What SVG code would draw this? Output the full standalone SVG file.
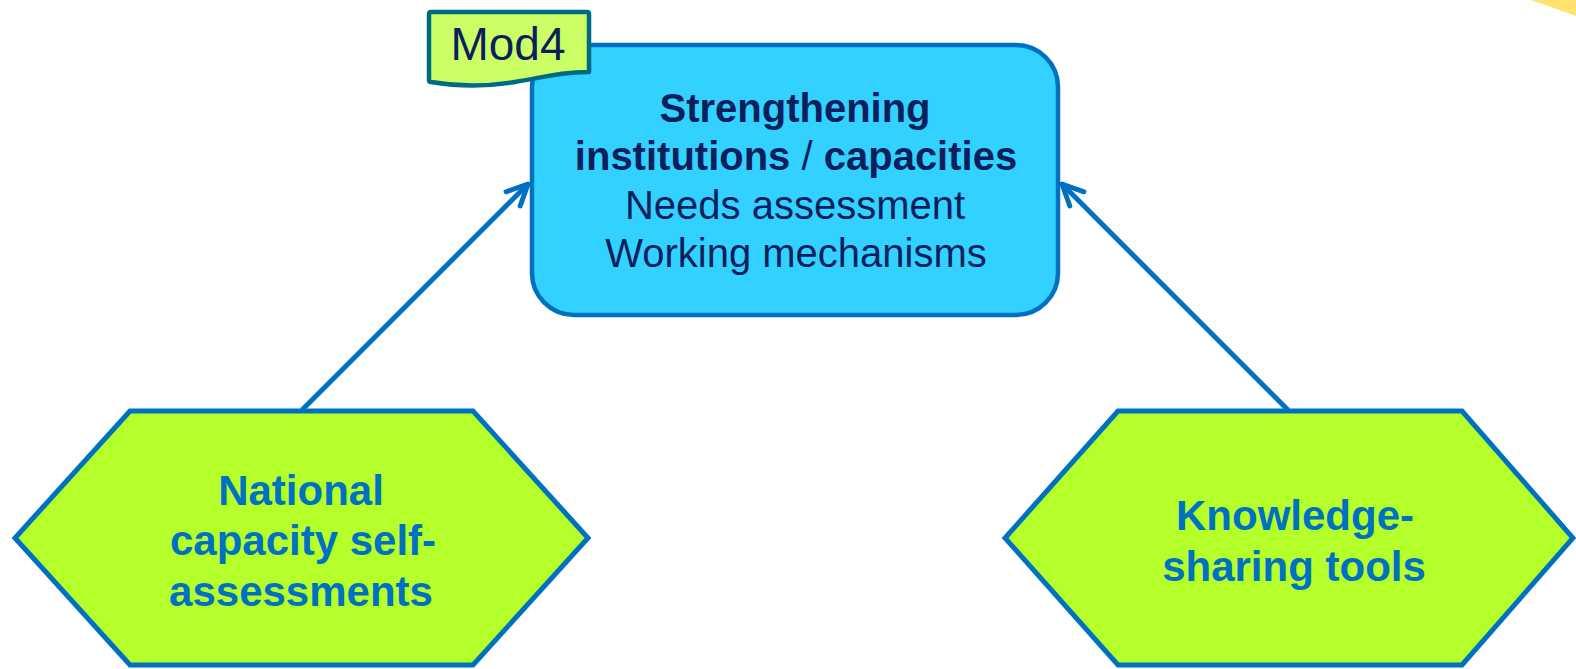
<svg xmlns="http://www.w3.org/2000/svg" width="1576" height="669" viewBox="0 0 1576 669">
<defs>
<style>
.hex{fill:#b5ff2a;stroke:#0070c0;stroke-width:5;stroke-linejoin:miter}
.hext{font-family:"Liberation Sans",Arial,sans-serif;font-weight:bold;font-size:42px;fill:#0070c0;text-anchor:middle}
.bt{font-family:"Liberation Sans",Arial,sans-serif;font-size:40px;fill:#0a1f5c;text-anchor:middle}
.conn{stroke:#0070c0;stroke-width:5;fill:none}
</style>
<marker id="arr" markerUnits="userSpaceOnUse" viewBox="-24 -14 28 28" markerWidth="28" markerHeight="28" refX="0" refY="0" orient="auto">
<path d="M-21,-10 L0,0 L-21,10" fill="none" stroke="#0070c0" stroke-width="5" stroke-linecap="round" stroke-linejoin="round"/>
</marker>
</defs>
<rect width="1576" height="669" fill="#ffffff"/>
<polygon points="1531,0 1576,0 1576,16" fill="#ffe36e"/>
<g id="connectors">
<line class="conn" x1="302" y1="410" x2="528" y2="184" marker-end="url(#arr)"/>
<line class="conn" x1="1288" y1="410" x2="1062" y2="184" marker-end="url(#arr)"/>
</g>
<g id="node-main">
<rect x="532" y="45" width="526" height="270" rx="42" ry="42" fill="#33d1ff" stroke="#0070c0" stroke-width="4.5"/>
<text class="bt" x="795" y="122" font-weight="bold">Strengthening</text>
<text class="bt" x="796" y="170"><tspan font-weight="bold">institutions</tspan> / <tspan font-weight="bold">capacities</tspan></text>
<text class="bt" x="795" y="219">Needs assessment</text>
<text class="bt" x="796" y="267">Working mechanisms</text>
</g>
<g id="node-mod4">
<path d="M431,12 H587 Q589,12 589,14 V72 C562,72 545,77 515,82 C485,87 460,87 431,82 Q429,82 429,80 V14 Q429,12 431,12 Z" fill="#ccff66" stroke="#006b80" stroke-width="4.5" stroke-linejoin="round"/>
<text x="508" y="60" font-family="'Liberation Sans',Arial,sans-serif" font-size="46" fill="#0a1f5c" text-anchor="middle">Mod4</text>
</g>
<g id="node-national">
<polygon class="hex" points="130,411 473,411 588,538 473,665 130,665 15,538"/>
<text class="hext" x="301" y="505">National</text>
<text class="hext" x="303" y="555">capacity self-</text>
<text class="hext" x="301" y="606">assessments</text>
</g>
<g id="node-knowledge">
<polygon class="hex" points="1118,411 1462,411 1573,538 1462,665 1118,665 1005,538"/>
<text class="hext" x="1295" y="530">Knowledge-</text>
<text class="hext" x="1294" y="581">sharing tools</text>
</g>
</svg>
